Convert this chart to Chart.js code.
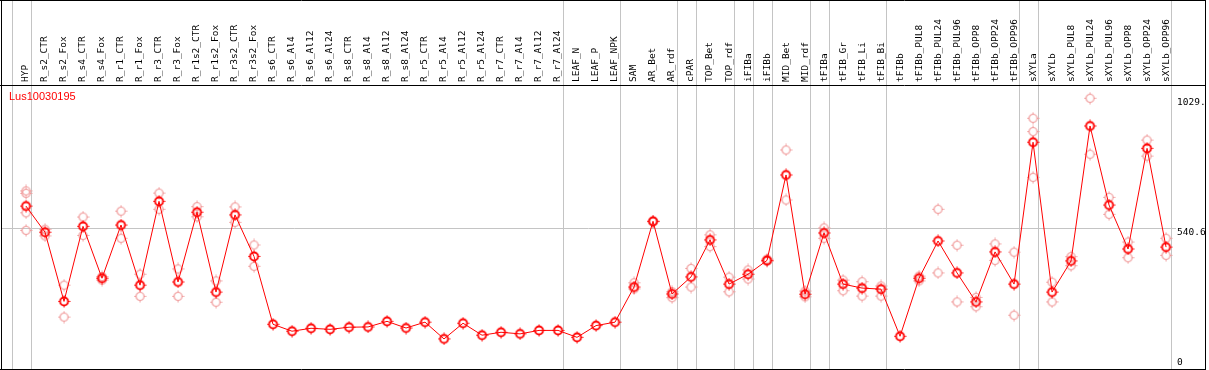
<!DOCTYPE html>
<html>
<head>
<meta charset="utf-8">
<script src="https://cdn.jsdelivr.net/npm/chart.js@4.4.1/dist/chart.umd.min.js"></script>
<style>
html, body { margin: 0; padding: 0; background: #fff; }
#wrap { width: 1209px; height: 370px; }
</style>
</head>
<body>
<div id="wrap"><canvas id="geneChart" width="1209" height="370"></canvas></div>
<script>
// 样本名称
const categories = [
    'HYP', 'R_s2_CTR', 'R_s2_Fox', 'R_s4_CTR', 'R_s4_Fox', 'R_r1_CTR', 'R_r1_Fox', 'R_r3_CTR', 'R_r3_Fox',
    'R_r1s2_CTR', 'R_r1s2_Fox', 'R_r3s2_CTR', 'R_r3s2_Fox', 'R_s6_CTR', 'R_s6_Al4', 'R_s6_Al12', 'R_s6_Al24',
    'R_s8_CTR', 'R_s8_Al4', 'R_s8_Al12', 'R_s8_Al24', 'R_r5_CTR', 'R_r5_Al4', 'R_r5_Al12', 'R_r5_Al24',
    'R_r7_CTR', 'R_r7_Al4', 'R_r7_Al12', 'R_r7_Al24', 'LEAF_N', 'LEAF_P', 'LEAF_NPK', 'SAM', 'AR_Bet', 'AR_rdf',
    'cPAR', 'TOP_Bet', 'TOP_rdf', 'iFIBa', 'iFIBb', 'MID_Bet', 'MID_rdf', 'tFIBa', 'tFIB_Gr', 'tFIB_Li', 'tFIB_Bi',
    'tFIBb', 'tFIBb_PUL8', 'tFIBb_PUL24', 'tFIBb_PUL96', 'tFIBb_OPP8', 'tFIBb_OPP24', 'tFIBb_OPP96',
    'sXYLa', 'sXYLb', 'sXYLb_PUL8', 'sXYLb_PUL24', 'sXYLb_PUL96', 'sXYLb_OPP8', 'sXYLb_OPP24', 'sXYLb_OPP96'
];

// 平均表达值
const meanValues = [
    624, 526, 266, 548, 353, 553, 327, 642, 339, 601, 301, 591, 435, 180, 154, 165, 161,
    169, 170, 191, 166, 188, 125, 184, 139, 150, 144, 157, 157, 131, 175, 188, 320, 567, 294,
    358, 497, 331, 368, 420, 741, 293, 523, 331, 316, 312, 135, 353, 493, 373, 264, 452, 331,
    864, 301, 418, 925, 628, 463, 841, 470
];

// 重复样本 (高/低)
const repHigh = [
    681, 537, 327, 583, 359, 605, 368, 673, 388, 622, 343, 621, 478, null, null, null, null,
    null, null, null, null, null, null, null, null, null, null, null, null, null, null, null, 336, 567, 302,
    390, 516, 357, 384, 425, 835, 305, 542, 346, 340, 324, null, 361, 612, 477, 281, 482, 451,
    954, 338, 434, 1029, 657, 489, 872, 503
];
const repLow = [
    533, 512, 207, 514, 346, 503, 285, 612, 285, 584, 263, 563, 398, null, null, null, null,
    null, null, null, null, null, null, null, null, null, null, null, null, null, null, null, 313, 565, 280,
    320, 472, 302, 350, 416, 647, 283, 503, 306, 286, 286, null, 343, 373, 264, 246, 420, 214,
    732, 264, 400, 819, 593, 430, 812, 439
];
// 额外的重复样本
const extraRepIndex = [0, 0, 53];
const extraRepValue = [672, 599, 904];

// 分组分隔线 (组内最后一个样本)
const groupEnds = [-1, 0, 28, 31, 34, 35, 37, 38, 39, 41, 42, 45, 52, 53, 60];

const yTickValues = [1029, 540.6, 0];
const yTickLabels = ['1029.', '540.6', '0'];
const gridValue = 540.6;
const geneName = 'Lus10030195';

// 点的样式图
function makeMarker(color, lineWidth) {
    const c = document.createElement('canvas');
    c.width = 13;
    c.height = 13;
    const g = c.getContext('2d');
    g.strokeStyle = color;
    g.lineWidth = lineWidth;
    g.beginPath();
    g.arc(6.5, 6.5, 4, 0, Math.PI * 2);
    g.stroke();
    g.lineWidth = 1;
    g.beginPath();
    g.moveTo(6.5, 0.5); g.lineTo(6.5, 2);
    g.moveTo(6.5, 11); g.lineTo(6.5, 12.5);
    g.moveTo(0.5, 6.5); g.lineTo(2, 6.5);
    g.moveTo(11, 6.5); g.lineTo(12.5, 6.5);
    g.stroke();
    return c;
}

const meanMarker = makeMarker('#ff0000', 1.8);
const repMarker = makeMarker('#f09a9a', 1.2);

const meanPoints = meanValues.map((v, i) => ({ x: i, y: v }));
const repPoints = [];
categories.forEach((c, i) => {
    if (repHigh[i] !== null) repPoints.push({ x: i, y: repHigh[i] });
    if (repLow[i] !== null) repPoints.push({ x: i, y: repLow[i] });
});
extraRepIndex.forEach((idx, k) => repPoints.push({ x: idx, y: extraRepValue[k] }));

// 背景网格、标签和边框
const decorPlugin = {
    id: 'decor',
    beforeDatasetsDraw(chart) {
        const ctx = chart.ctx;
        const xs = chart.scales.x;
        const ys = chart.scales.y;
        const area = chart.chartArea;
        ctx.save();
        ctx.strokeStyle = '#c4c4c4';
        ctx.lineWidth = 1;
        ctx.beginPath();
        groupEnds.forEach(i => {
            const px = Math.round(xs.getPixelForValue(i + 0.24)) + 0.5;
            ctx.moveTo(px, 0);
            ctx.lineTo(px, area.bottom);
        });
        const gy = Math.round(ys.getPixelForValue(gridValue)) + 0.5;
        ctx.moveTo(area.left, gy);
        ctx.lineTo(1176, gy);
        ctx.stroke();
        ctx.restore();
    },
    afterDraw(chart) {
        const ctx = chart.ctx;
        const xs = chart.scales.x;
        const ys = chart.scales.y;
        const area = chart.chartArea;
        ctx.save();

        // 边框
        ctx.strokeStyle = '#000';
        ctx.lineWidth = 1;
        ctx.beginPath();
        ctx.moveTo(0, 0.5); ctx.lineTo(1206, 0.5);
        ctx.moveTo(1.5, 0); ctx.lineTo(1.5, area.bottom);
        ctx.moveTo(1205.5, 0); ctx.lineTo(1205.5, area.bottom);
        ctx.moveTo(0, 85.5); ctx.lineTo(1206, 85.5);
        ctx.moveTo(0, area.bottom + 0.5); ctx.lineTo(1206, area.bottom + 0.5);
        ctx.stroke();

        // 样本标签 (竖排)
        ctx.fillStyle = '#000';
        ctx.font = '9.5px "DejaVu Sans Mono"';
        ctx.textAlign = 'left';
        ctx.textBaseline = 'middle';
        categories.forEach((label, i) => {
            const px = xs.getPixelForValue(i);
            ctx.save();
            ctx.translate(px, 82);
            ctx.rotate(-Math.PI / 2);
            ctx.fillText(label, 0, 0);
            ctx.restore();
        });

        // 右侧刻度
        yTickValues.forEach((v, k) => {
            let py = ys.getPixelForValue(v) + 4.5;
            py = Math.min(py, area.bottom - 6.5);
            ctx.fillText(yTickLabels[k], 1177, py);
        });

        // 基因名
        ctx.fillStyle = '#ff0000';
        ctx.font = '11px "Liberation Sans"';
        ctx.fillText(geneName, 9, 97);
        ctx.restore();
    }
};

const ctx = document.getElementById('geneChart').getContext('2d');
const geneChart = new Chart(ctx, {
    data: {
        datasets: [
            {
                type: 'line',
                label: 'mean',
                data: meanPoints,
                borderColor: '#ff0000',
                borderWidth: 1,
                pointStyle: meanMarker,
                tension: 0,
                fill: false,
                order: 0
            },
            {
                type: 'scatter',
                label: 'replicates',
                data: repPoints,
                pointStyle: repMarker,
                order: 1
            }
        ]
    },
    options: {
        responsive: false,
        animation: false,
        layout: {
            autoPadding: false,
            padding: { left: 1, right: 4, top: 85, bottom: 1 }
        },
        plugins: {
            legend: { display: false },
            tooltip: { enabled: false },
            title: { display: false }
        },
        scales: {
            x: { type: 'linear', display: false, min: -1.316, max: 62.05 },
            y: { type: 'linear', display: false, min: 12, max: 1079 }
        }
    },
    plugins: [decorPlugin]
});
</script>
</body>
</html>
